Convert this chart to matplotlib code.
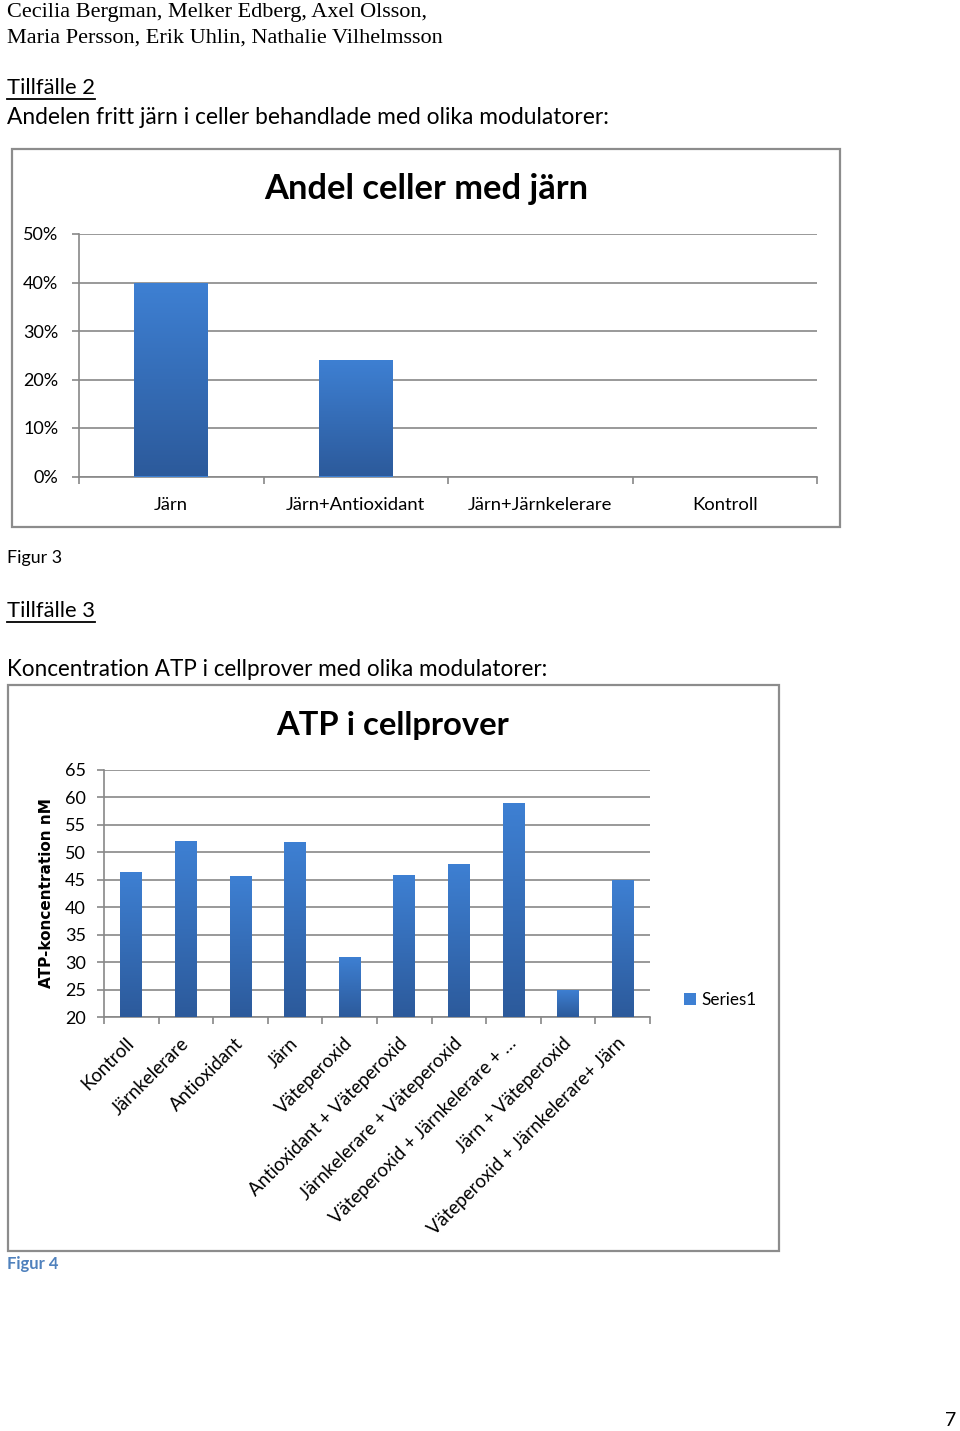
import matplotlib
matplotlib.use("Agg")
import matplotlib.pyplot as plt
import numpy as np
from matplotlib.patches import Rectangle
from matplotlib.lines import Line2D
from matplotlib.colors import LinearSegmentedColormap
from matplotlib.ticker import PercentFormatter

W, H = 960, 1431

# Figur 3 - andel celler med järn
iron_cats = ["Järn", "Järn+Antioxidant", "Järn+Järnkelerare", "Kontroll"]
iron_share = [0.40, 0.24, 0.0, 0.0]
iron_ticks = [0, 0.1, 0.2, 0.3, 0.4, 0.5]

# Figur 4 - ATP i cellprover (nM)
atp_cats = ["Kontroll", "Järnkelerare", "Antioxidant", "Järn", "Väteperoxid",
            "Antioxidant + Väteperoxid", "Järnkelerare + Väteperoxid",
            "Väteperoxid + Järnkelerare + …", "Järn + Väteperoxid",
            "Väteperoxid + Järnkelerare+ Järn"]
atp_values = [46.5, 52.0, 45.6, 51.8, 31.0, 45.9, 47.9, 58.9, 25.0, 45.0]
atp_ticks = list(range(20, 70, 5))

SANS = ["Lato", "DejaVu Sans"]
SERIF = ["Liberation Serif", "DejaVu Serif"]
GRID = "#888888"
FRAME = "#8c8c8c"
BAR_TOP = "#3e80d3"
BAR_BOT = "#2c5a9b"

plt.rcParams["font.family"] = SANS

fig = plt.figure(figsize=(W / 100, H / 100), dpi=100)
renderer = fig.canvas.get_renderer()


def fx(x):
    return x / W


def fy(y):
    return 1 - y / H


def px_axes(l, t, r, b):
    return fig.add_axes([fx(l), fy(b), (r - l) / W, (b - t) / H])


def ftext(x, y, s, width=None, **kw):
    t = fig.text(fx(x), fy(y), s, **kw)
    if width:
        w = t.get_window_extent(renderer).width
        t.set_fontsize(t.get_fontsize() * width / w)
    return t


def underline(t, y):
    bb = t.get_window_extent(renderer)
    fig.add_artist(Line2D([bb.x0 / W, bb.x1 / W], [fy(y), fy(y)],
                          transform=fig.transFigure, color="black", lw=1.3))


def frame(l, t, r, b):
    fig.add_artist(Rectangle((fx(l), fy(b)), (r - l) / W, (b - t) / H,
                             transform=fig.transFigure, fill=False,
                             edgecolor=FRAME, lw=1.6))


grad = np.linspace(1, 0, 256).reshape(-1, 1)
bar_cmap = LinearSegmentedColormap.from_list("bar", [BAR_BOT, BAR_TOP])


def gradient_bars(ax, vals, base, label=None):
    x = np.arange(len(vals))
    bars = ax.bar(x, vals, 0.4, color=BAR_TOP, zorder=3, label=label)
    for b, v in zip(bars, vals):
        if v <= base:
            continue
        im = ax.imshow(grad, cmap=bar_cmap, aspect="auto", zorder=3.5,
                       extent=[b.get_x(), b.get_x() + b.get_width(), base, v])
        im.set_clip_path(b)
    return bars


def style_axes(ax, n, ylim, ticks):
    ax.set_xlim(-0.5, n - 0.5)
    ax.set_ylim(*ylim)
    ax.set_yticks(ticks)
    ax.set_xticks(np.arange(n))
    ax.set_xticks(np.arange(n + 1) - 0.5, minor=True)
    ax.grid(axis="y", color=GRID, lw=1.2, zorder=1)
    for s in ["top", "right"]:
        ax.spines[s].set_visible(False)
    for s in ["left", "bottom"]:
        ax.spines[s].set_color(GRID)
        ax.spines[s].set_linewidth(1.2)
    ax.tick_params(axis="x", which="major", length=0)
    ax.tick_params(axis="x", which="minor", length=5, color=GRID, width=1.2)
    ax.tick_params(axis="y", length=5, color=GRID, width=1.2)


# ---- header text
t = ftext(7, 13, "Cecilia Bergman, Melker Edberg, Axel Olsson,", width=423,
          family=SERIF, fontsize=15, va="center")
ftext(7, 38, "Maria Persson, Erik Uhlin, Nathalie Vilhelmsson",
      family=SERIF, fontsize=t.get_fontsize(), va="center")
t2 = ftext(7, 88, "Tillfälle 2", width=88, fontsize=15, va="center")
underline(t2, 99)
body = ftext(7, 118, "Andelen fritt järn i celler behandlade med olika modulatorer:",
             width=601, fontsize=15, va="center")

# ---- Figur 3
frame(12, 149, 840, 527)
ax1 = px_axes(79, 234, 817, 476.5)
gradient_bars(ax1, iron_share, 0)
style_axes(ax1, len(iron_cats), (0, 0.5), iron_ticks)
ax1.yaxis.set_major_formatter(PercentFormatter(1.0, decimals=0))
ax1.set_xticklabels(iron_cats, fontsize=13.3)
ax1.tick_params(axis="x", which="major", pad=15)
ax1.tick_params(axis="y", labelsize=13, pad=10)
ftext(426, 189, "Andel celler med järn", width=324, fontsize=22,
      fontweight="bold", ha="center", va="center")

ftext(7, 558, "Figur 3", width=55, fontsize=13, va="center")
t3 = ftext(7, 611, "Tillfälle 3", width=88, fontsize=15, va="center")
underline(t3, 622)
ftext(7, 670, "Koncentration ATP i cellprover med olika modulatorer:",
      width=540, fontsize=15, va="center")

# ---- Figur 4
frame(8, 685, 779, 1251)
ax2 = px_axes(104, 770, 650, 1017)
bars2 = gradient_bars(ax2, atp_values, 20, label="Series1")
style_axes(ax2, len(atp_cats), (20, 65), atp_ticks)
ax2.set_xticklabels(atp_cats, fontsize=13.4, rotation=45, ha="right",
                    va="center", rotation_mode="anchor")
ax2.tick_params(axis="x", which="major", pad=17)
ax2.tick_params(axis="y", labelsize=13, pad=8)
ftext(393, 725, "ATP i cellprover", width=233, fontsize=22,
      fontweight="bold", ha="center", va="center")
ftext(47, 893, "ATP-koncentration nM", fontsize=11,
      family=["DejaVu Sans"], fontweight="bold", rotation=90,
      ha="center", va="center")
ax2.legend(loc="center left", bbox_to_anchor=(fx(669), fy(1000)),
           bbox_transform=fig.transFigure, frameon=False, fontsize=12.3,
           handlelength=0.7, handleheight=0.7, handletextpad=0.3)

ftext(7, 1264, "Figur 4", fontsize=12, fontweight="bold", color="#4f81bd",
      va="center")
ftext(951, 1421, "7", fontsize=14, ha="center", va="center")

fig.savefig("out.png", dpi=100)
